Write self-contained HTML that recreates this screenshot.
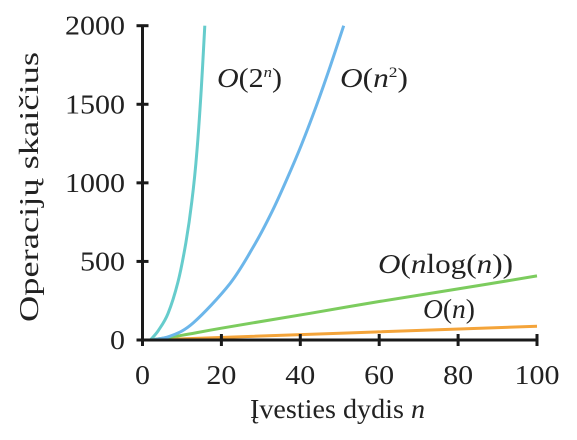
<!DOCTYPE html>
<html><head><meta charset="utf-8"><style>
body{margin:0;background:#fff;width:577px;height:435px;overflow:hidden}
text{font-family:"Liberation Serif",serif;fill:#222}
</style></head><body>
<svg id="chart" width="577" height="435" xmlns="http://www.w3.org/2000/svg"></svg>
<script>
const xTicks=[0,20,40,60,80,100];
const yTicks=[0,500,1000,1500,2000];
const expN=[2,4,6.5,9,11,12.5,13.8,14.9,15.8];
const expV=[0,60,170,370,620,880,1200,1600,2000];
const sqN=[2,7,12.9,22.2,28.5,32.7,36.5,40.3,44,47.6,51];
const sqV=[0,24,110,360,610,810,1018,1243,1486,1743,2000];
const nlogN=[2,10,20,42.5,60,80,100];
const nlogV=[0,30,75,170,245,325,408];
const linN=[2,100];
const linV=[0,88];
const svg=document.getElementById('chart');
const NS='http://www.w3.org/2000/svg';
const X=v=>142.5+v*(537-142.5)/100;
const Y=v=>340-v*(340-25.7)/2000;
function mk(t,a,txt){const e=document.createElementNS(NS,t);for(const k in a)e.setAttribute(k,a[k]);if(txt!=null)e.textContent=txt;svg.appendChild(e);return e;}
function smooth(pts){
 let d='M'+pts[0][0].toFixed(1)+' '+pts[0][1].toFixed(1);
 for(let i=0;i<pts.length-1;i++){
  const p0=pts[i-1]||pts[i],p1=pts[i],p2=pts[i+1],p3=pts[i+2]||p2;
  const c1=[p1[0]+(p2[0]-p0[0])/6,p1[1]+(p2[1]-p0[1])/6];
  const c2=[p2[0]-(p3[0]-p1[0])/6,p2[1]-(p3[1]-p1[1])/6];
  d+=` C${c1[0].toFixed(1)} ${c1[1].toFixed(1)} ${c2[0].toFixed(1)} ${c2[1].toFixed(1)} ${p2[0].toFixed(1)} ${p2[1].toFixed(1)}`;
 }
 return d;
}
function series(xs,ys,color,name){
 const pts=xs.map((x,i)=>[X(x),Y(ys[i])]);
 const p=mk('path',{d:smooth(pts),fill:'none',stroke:color,'stroke-width':3,'stroke-linejoin':'round'});
 
 
}
series(linN,linV,'#f4a43a','line-o-n');
series(nlogN,nlogV,'#7ccc5e','line-o-nlogn');
series(sqN,sqV,'#6cb6ea','line-o-n2');
series(expN,expV,'#66cccc','line-o-2n');
const ax=mk('path',{d:`M${X(0)} ${Y(2000)} L${X(0)} ${Y(0)} L${X(100)} ${Y(0)}`,fill:'none',stroke:'#1a1a1a','stroke-width':3});


xTicks.forEach(t=>{
 const l=mk('line',{x1:X(t),x2:X(t),y1:Y(0)-6,y2:Y(0)+6,stroke:'#1a1a1a','stroke-width':3});
 
 
 const tx=mk('text',{x:X(t),y:384,'text-anchor':'middle','font-size':27,textLength:String(t).length*15,lengthAdjust:'spacingAndGlyphs'},t);
 
 
});
yTicks.forEach(t=>{
 const l=mk('line',{x1:X(0)-6,x2:X(0)+6,y1:Y(t),y2:Y(t),stroke:'#1a1a1a','stroke-width':3});
 
 
 const tx=mk('text',{x:125,y:Y(t)+9,'text-anchor':'end','font-size':27,textLength:String(t).length*15,lengthAdjust:'spacingAndGlyphs'},t);
 
 
});
</script>
<svg style="position:absolute;left:0;top:0" width="577" height="435" xmlns="http://www.w3.org/2000/svg">
<text x="250" y="418" font-size="27" textLength="175" lengthAdjust="spacingAndGlyphs">Įvesties dydis <tspan font-style="italic">n</tspan></text>
<text transform="translate(38,322) rotate(-90)" font-size="27" textLength="270" lengthAdjust="spacingAndGlyphs">Operacijų skaičius</text>
<text x="217" y="87" font-size="27" textLength="65" lengthAdjust="spacingAndGlyphs"><tspan font-style="italic">O</tspan>(2<tspan font-size="15" font-style="italic" dy="-10">n</tspan><tspan dy="10">)</tspan></text>
<text x="340" y="87" font-size="27" textLength="68" lengthAdjust="spacingAndGlyphs"><tspan font-style="italic">O</tspan>(<tspan font-style="italic">n</tspan><tspan font-size="15" dy="-10">2</tspan><tspan dy="10">)</tspan></text>
<text x="378" y="273" font-size="27" textLength="135" lengthAdjust="spacingAndGlyphs"><tspan font-style="italic">O</tspan>(<tspan font-style="italic">n</tspan>log(<tspan font-style="italic">n</tspan>))</text>
<text x="423" y="318" font-size="27" textLength="52" lengthAdjust="spacingAndGlyphs"><tspan font-style="italic">O</tspan>(<tspan font-style="italic">n</tspan>)</text>
</svg>
</body></html>
